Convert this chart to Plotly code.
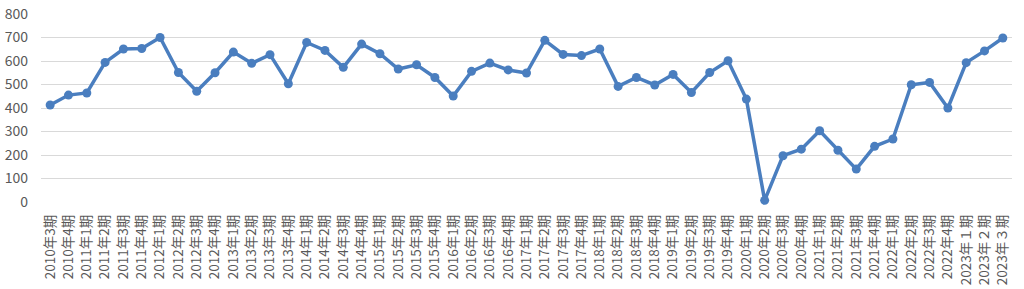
import plotly.graph_objects as go

categories = (
    ["2010年3期", "2010年4期"]
    + [f"{y}年{q}期" for y in range(2011, 2023) for q in range(1, 5)]
    + ["2023年１期", "2023年２期", "2023年３期"]
)

values = [
    413, 455, 464, 594, 651, 653, 700, 551, 471, 550,
    638, 590, 627, 503, 679, 645, 573, 672, 631, 566,
    584, 530, 451, 556, 591, 562, 549, 688, 628, 623,
    651, 492, 530, 498, 543, 466, 551, 601, 438, 7,
    197, 225, 303, 220, 140, 237, 268, 499, 509, 400,
    593, 643, 698,
]

y_ticks = [0, 100, 200, 300, 400, 500, 600, 700, 800]

fig = go.Figure()
fig.add_trace(go.Scatter(
    x=categories, y=values, mode="lines+markers",
    line=dict(color="#4a7ebf", width=3.5),
    marker=dict(color="#4a7ebf", size=9),
    cliponaxis=False,
))

font_family = "Noto Sans CJK JP, Noto Sans, sans-serif"
fig.update_layout(
    width=1024, height=289,
    margin=dict(l=41, r=12, t=14, b=87),
    paper_bgcolor="white", plot_bgcolor="white",
    showlegend=False,
    font=dict(family=font_family, color="#595959"),
)
fig.update_xaxes(
    type="category", tickangle=-90, tickfont=dict(size=13.5, color="#595959"),
    showgrid=False, showline=False, ticks="", zeroline=False,
    range=[-0.5, len(categories) - 0.5], automargin=False,
    ticklabelstandoff=9,
)
fig.update_yaxes(
    range=[0, 800], tickvals=y_ticks, tickfont=dict(size=14, color="#595959"),
    showgrid=True, gridcolor="#d9d9d9", gridwidth=1,
    zeroline=False, showline=False, ticklabelstandoff=12, automargin=False,
)

fig.write_html("out.html")
